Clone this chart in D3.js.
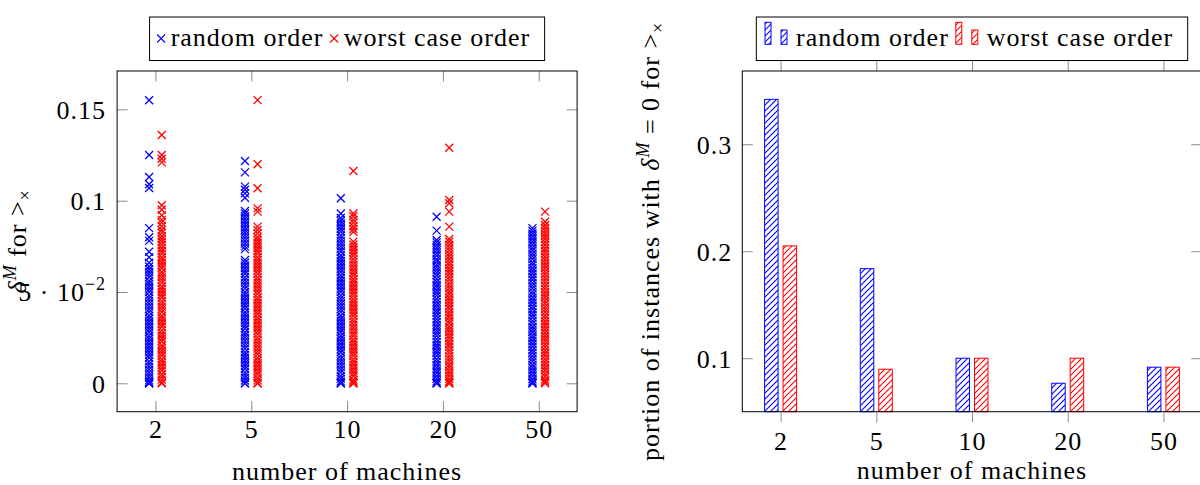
<!DOCTYPE html>
<html>
<head>
  <title>delta^M by number of machines</title>
  <script src="https://d3js.org/d3.v7.min.js"></script>
  <style>
    body { margin: 0; background: #fff; }
    text {
      font-family: "Liberation Serif", serif;
      font-size: 26px;
      fill: #000;
      letter-spacing: 1px;
    }
  </style>
</head>
<body>
  <div id="chart"></div>

  <script>
    // categories and legend entries
    const machines = ["2", "5", "10", "20", "50"];
    const seriesNames = ["random order", "worst case order"];
    const colors = ["#0000ff", "#ff0000"];

    // left plot: delta^M of every instance, random order
    const random2 = [0.155, 0.125, 0.113, 0.109, 0.107, 0.085, 0.080, 0.078, 0.072, 0.069, 0.066,
      0.064, 0.0625, 0.061, 0.0595, 0.058, 0.056, 0.0545, 0.053, 0.0515, 0.050, 0.048, 0.0465, 0.045,
      0.0435, 0.042, 0.0405, 0.039, 0.037, 0.0355, 0.034, 0.0325, 0.031, 0.0295, 0.028, 0.026, 0.0245,
      0.023, 0.0215, 0.020, 0.0185, 0.017, 0.0155, 0.014, 0.012, 0.0105, 0.009, 0.0075, 0.006, 0.0045,
      0.003, 0.0015, 0.0005, 0, 0];
    const random5 = [0.1217, 0.1155, 0.1077, 0.106, 0.104, 0.1016, 0.0944, 0.093, 0.0915, 0.090, 0.0885,
      0.087, 0.0855, 0.084, 0.0825, 0.081, 0.0795, 0.078, 0.0765, 0.075, 0.0735,
      0.0675, 0.066, 0.0645, 0.063, 0.0615, 0.060, 0.058, 0.0565, 0.055, 0.0535, 0.052, 0.050, 0.0485,
      0.047, 0.0455, 0.044, 0.0425, 0.041, 0.039, 0.0375, 0.036, 0.0345, 0.033, 0.0315, 0.030, 0.028,
      0.0265, 0.025, 0.0235, 0.022, 0.0205, 0.019, 0.017, 0.0155, 0.014, 0.0125, 0.011, 0.0095, 0.008,
      0.006, 0.0045, 0.003, 0.0015, 0, 0];
    const random10 = [0.1013, 0.093, 0.0905, 0.089, 0.0875, 0.086, 0.0845, 0.083, 0.081, 0.0795, 0.078,
      0.0765, 0.075, 0.0735, 0.072, 0.070, 0.0685, 0.067, 0.0655, 0.064, 0.0625, 0.061, 0.059, 0.0575,
      0.056, 0.0545, 0.053, 0.0515, 0.050, 0.048, 0.0465, 0.045, 0.0435, 0.042, 0.0405, 0.039, 0.037,
      0.0355, 0.034, 0.0325, 0.031, 0.0295, 0.028, 0.026, 0.0245, 0.023, 0.0215, 0.020, 0.0185, 0.017,
      0.015, 0.0135, 0.012, 0.0105, 0.009, 0.0075, 0.006, 0.004, 0.0025, 0.001, 0, 0];
    const random20 = [0.0912, 0.0836, 0.0785, 0.0772, 0.0758, 0.0742, 0.0728, 0.0712, 0.0698, 0.068,
      0.0667, 0.065, 0.0636, 0.062, 0.0606, 0.059, 0.0572, 0.0556, 0.054, 0.0526, 0.051, 0.0496, 0.048,
      0.0462, 0.0446, 0.043, 0.0416, 0.040, 0.0386, 0.037, 0.0352, 0.0336, 0.032, 0.0306, 0.029, 0.0276,
      0.026, 0.0242, 0.0226, 0.021, 0.0196, 0.018, 0.0166, 0.015, 0.0132, 0.0116, 0.010, 0.0086, 0.007,
      0.0056, 0.004, 0.0025, 0.001, 0, 0];
    const random50 = [0.085, 0.0835, 0.082, 0.0805, 0.079, 0.0775, 0.076, 0.0742, 0.0727, 0.071, 0.0695,
      0.068, 0.0662, 0.0647, 0.063, 0.0615, 0.060, 0.0582, 0.0567, 0.055, 0.0535, 0.052, 0.0502, 0.0487,
      0.047, 0.0455, 0.044, 0.0422, 0.0407, 0.039, 0.0375, 0.036, 0.0342, 0.0327, 0.031, 0.0295, 0.028,
      0.0262, 0.0247, 0.023, 0.0215, 0.020, 0.0182, 0.0167, 0.015, 0.0135, 0.012, 0.0102, 0.0087, 0.007,
      0.0055, 0.004, 0.0022, 0.001, 0, 0];

    // left plot: delta^M of every instance, worst case order
    const worst2 = [0.136, 0.125, 0.123, 0.121, 0.0975, 0.095, 0.092, 0.0895, 0.088, 0.086, 0.084, 0.0825,
      0.0805, 0.079, 0.0775, 0.0757, 0.074, 0.0725, 0.071, 0.069, 0.0675, 0.066, 0.0645, 0.063, 0.061,
      0.0595, 0.058, 0.0565, 0.055, 0.053, 0.0515, 0.050, 0.0485, 0.047, 0.045, 0.0435, 0.042, 0.0405,
      0.039, 0.037, 0.0355, 0.034, 0.0325, 0.031, 0.029, 0.0275, 0.026, 0.0245, 0.023, 0.021, 0.0195,
      0.018, 0.0165, 0.015, 0.013, 0.0115, 0.010, 0.0085, 0.007, 0.005, 0.0035, 0.002, 0.0005, 0];
    const worst5 = [0.1551, 0.120, 0.1068, 0.0958, 0.094, 0.0858, 0.084, 0.0821, 0.080, 0.0785, 0.077,
      0.0755, 0.074, 0.0725, 0.071, 0.069, 0.0675, 0.066, 0.0645, 0.063, 0.0615, 0.060, 0.058, 0.0565,
      0.055, 0.0535, 0.052, 0.0505, 0.049, 0.047, 0.0455, 0.044, 0.0425, 0.041, 0.0395, 0.038, 0.036,
      0.0345, 0.033, 0.0315, 0.030, 0.0285, 0.027, 0.025, 0.0235, 0.022, 0.0205, 0.019, 0.0175, 0.016,
      0.014, 0.0125, 0.011, 0.0095, 0.008, 0.0065, 0.005, 0.003, 0.0015, 0, 0];
    const worst10 = [0.1163, 0.093, 0.0915, 0.0895, 0.088, 0.086, 0.0845, 0.083, 0.0776, 0.076, 0.0745,
      0.073, 0.0715, 0.070, 0.068, 0.0665, 0.065, 0.0635, 0.062, 0.0605, 0.059, 0.057, 0.0555, 0.054,
      0.0525, 0.051, 0.0495, 0.048, 0.046, 0.0445, 0.043, 0.0415, 0.040, 0.0385, 0.037, 0.035, 0.0335,
      0.032, 0.0305, 0.029, 0.0275, 0.026, 0.024, 0.0225, 0.021, 0.0195, 0.018, 0.0165, 0.015, 0.013,
      0.0115, 0.010, 0.0085, 0.007, 0.0055, 0.004, 0.002, 0.001, 0, 0];
    const worst20 = [0.129, 0.1004, 0.0986, 0.094, 0.0858, 0.079, 0.0775, 0.0758, 0.0743, 0.0728, 0.071,
      0.0695, 0.068, 0.0663, 0.0648, 0.063, 0.0615, 0.060, 0.0583, 0.0568, 0.055, 0.0535, 0.052, 0.0503,
      0.0488, 0.047, 0.0455, 0.044, 0.0423, 0.0408, 0.039, 0.0375, 0.036, 0.0343, 0.0328, 0.031, 0.0295,
      0.028, 0.0263, 0.0248, 0.023, 0.0215, 0.020, 0.0183, 0.0168, 0.015, 0.0135, 0.012, 0.0103, 0.0088,
      0.007, 0.0055, 0.004, 0.0023, 0.001, 0, 0];
    const worst50 = [0.094, 0.0885, 0.0867, 0.0852, 0.0836, 0.082, 0.0805, 0.079, 0.0773, 0.0757, 0.074,
      0.0725, 0.071, 0.0693, 0.0677, 0.066, 0.0645, 0.063, 0.0613, 0.0597, 0.058, 0.0565, 0.055, 0.0533,
      0.0517, 0.050, 0.0485, 0.047, 0.0453, 0.0437, 0.042, 0.0405, 0.039, 0.0373, 0.0357, 0.034, 0.0325,
      0.031, 0.0293, 0.0277, 0.026, 0.0245, 0.023, 0.0213, 0.0197, 0.018, 0.0165, 0.015, 0.0133, 0.0117,
      0.010, 0.0085, 0.007, 0.0053, 0.0037, 0.002, 0.001, 0];

    const randomDelta = [random2, random5, random10, random20, random50];
    const worstDelta = [worst2, worst5, worst10, worst20, worst50];

    // right plot: portion of instances with delta^M = 0
    const randomZero = [0.342, 0.1837, 0.1, 0.0766, 0.0916];
    const worstZero = [0.205, 0.0897, 0.1, 0.1, 0.0916];

    // y ticks
    const leftTicks = [0, 0.05, 0.1, 0.15];
    const rightTicks = [0.1, 0.2, 0.3];

    // ---------- layout ----------
    const W = 1200, H = 485;
    const plotTop = 71, plotBottom = 411.7;
    const left = { x0: 117.1, x1: 577.1 };
    const right = { x0: 742.3, x1: 1201.7 };
    const tickLen = 10.5;
    const tickColor = "#8c8c8c";

    const svg = d3.select("#chart")
      .append("svg")
      .attr("width", W)
      .attr("height", H);

    // hatch patterns (north east lines)
    const defs = svg.append("defs");
    colors.forEach((c, i) => {
      defs.append("pattern")
        .attr("id", "hatch" + i)
        .attr("patternUnits", "userSpaceOnUse")
        .attr("width", 6)
        .attr("height", 6)
        .append("path")
        .attr("d", "M0,6L6,0M-1,1L1,-1M5,7L7,5")
        .style("stroke", c)
        .style("fill", "none")
        .style("stroke-width", "1.1px");
    });

    function styleAxis(g, hideLabels) {
      g.select(".domain").remove();
      g.selectAll(".tick line").attr("stroke", tickColor).attr("stroke-width", 1);
      if (hideLabels) g.selectAll(".tick text").remove();
      g.attr("font-family", null).attr("font-size", null);
    }

    // ================= LEFT: scatter =================
    const xL = d3.scaleLinear().domain([-0.4, 4.4]).range([left.x0, left.x1]);
    const yL = d3.scaleLinear().domain([-0.01555, 0.17103]).range([plotBottom, plotTop]);
    const idx = machines.map((m, i) => i);

    const gxb = svg.append("g")
      .attr("transform", "translate(0," + plotBottom + ")")
      .call(d3.axisBottom(xL).tickValues(idx).tickFormat(i => machines[i]).tickSize(-tickLen));
    styleAxis(gxb, false);
    gxb.selectAll(".tick text").attr("y", 26.5).attr("dy", null);

    const gxt = svg.append("g")
      .attr("transform", "translate(0," + plotTop + ")")
      .call(d3.axisTop(xL).tickValues(idx).tickSize(-tickLen));
    styleAxis(gxt, true);

    const gyl = svg.append("g")
      .attr("transform", "translate(" + left.x0 + ",0)")
      .call(d3.axisLeft(yL).tickValues(leftTicks).tickSize(-tickLen).tickPadding(11)
        .tickFormat(d => d === 0.05 ? "" : String(d)));
    styleAxis(gyl, false);
    gyl.selectAll(".tick text").attr("dy", "0.34em");
    // scaled tick label 5·10^-2
    const t5 = gyl.selectAll(".tick").filter(d => d === 0.05).select("text");
    t5.append("tspan").text("5 · 10");
    t5.append("tspan").attr("dy", -11).style("font-size", "18px").text("−2");

    const gyr = svg.append("g")
      .attr("transform", "translate(" + left.x1 + ",0)")
      .call(d3.axisRight(yL).tickValues(leftTicks).tickSize(-tickLen));
    styleAxis(gyr, true);

    // markers
    const cross = "M-4,-4L4,4M-4,4L4,-4";
    [randomDelta, worstDelta].forEach((series, s) => {
      const off = s === 0 ? -6.3 : 6.3;
      const pts = [];
      series.forEach((vals, i) => vals.forEach(v => pts.push({ i: i, v: v })));
      svg.append("g").selectAll("path")
        .data(pts)
        .enter().append("path")
        .attr("d", cross)
        .attr("transform", d => "translate(" + (xL(d.i) + off) + "," + yL(d.v) + ")")
        .attr("fill", "none")
        .attr("stroke", colors[s])
        .attr("stroke-width", 1.3);
    });

    svg.append("rect")
      .attr("x", left.x0).attr("y", plotTop)
      .attr("width", left.x1 - left.x0).attr("height", plotBottom - plotTop)
      .attr("fill", "none").attr("stroke", "#000").attr("stroke-width", 1);

    // axis labels
    svg.append("text")
      .attr("x", (left.x0 + left.x1) / 2).attr("y", 479.5)
      .attr("text-anchor", "middle")
      .text("number of machines");

    function deltaLabel(t, prefix) {
      if (prefix) t.append("tspan").text(prefix);
      t.append("tspan").style("font-style", "italic").text("δ");
      t.append("tspan").attr("dy", -10).style("font-size", "18px").style("font-style", "italic").text("M");
    }

    const ylL = svg.append("text")
      .attr("transform", "translate(26," + (plotTop + plotBottom) / 2 + ") rotate(-90)")
      .attr("text-anchor", "middle");
    deltaLabel(ylL, null);
    ylL.append("tspan").attr("dy", 10).text(" for >");
    ylL.append("tspan").attr("dy", 5).style("font-size", "18px").text("×");

    // legend with markers
    const legL = svg.append("g");
    let cx = 0;
    seriesNames.forEach((name, s) => {
      legL.append("path")
        .attr("d", cross)
        .attr("transform", "translate(" + (cx + 4) + ",38.5)")
        .attr("fill", "none").attr("stroke", colors[s]).attr("stroke-width", 1.1);
      const t = legL.append("text").attr("x", cx + 13.6).attr("y", 46).text(name);
      cx += 13.6 + t.node().getComputedTextLength() + 6.7;
    });
    const legLw = cx - 6.7 + 14.5 + 7.5;
    legL.insert("rect", ":first-child")
      .attr("x", -7.5).attr("y", 17)
      .attr("width", legLw).attr("height", 43.5)
      .attr("fill", "#fff").attr("stroke", "#000").attr("stroke-width", 1);
    legL.attr("transform", "translate(" + ((left.x0 + left.x1) / 2 - legLw / 2 + 7.5) + ",0)");

    // ================= RIGHT: bars =================
    const xR = d3.scaleLinear().domain([-0.4, 4.4]).range([right.x0, right.x1]);
    const yR = d3.scaleLinear().domain([0.05, 0.3685]).range([plotBottom, plotTop]);

    const rxb = svg.append("g")
      .attr("transform", "translate(0," + plotBottom + ")")
      .call(d3.axisBottom(xR).tickValues(idx).tickFormat(i => machines[i]).tickSize(tickLen));
    styleAxis(rxb, false);
    rxb.selectAll(".tick text").attr("y", 38.3).attr("dy", null);

    const rxt = svg.append("g")
      .attr("transform", "translate(0," + plotTop + ")")
      .call(d3.axisTop(xR).tickValues(idx).tickSize(tickLen));
    styleAxis(rxt, true);

    const ryl = svg.append("g")
      .attr("transform", "translate(" + right.x0 + ",0)")
      .call(d3.axisLeft(yR).tickValues(rightTicks).tickSize(-tickLen).tickPadding(10)
        .tickFormat(d3.format(".1f")));
    styleAxis(ryl, false);
    ryl.selectAll(".tick text").attr("dy", "0.34em");

    const ryr = svg.append("g")
      .attr("transform", "translate(" + right.x1 + ",0)")
      .call(d3.axisRight(yR).tickValues(rightTicks).tickSize(-tickLen));
    styleAxis(ryr, true);

    const barW = 13.5;
    [randomZero, worstZero].forEach((vals, s) => {
      const off = s === 0 ? -9.25 : 9.25;
      svg.append("g").selectAll("rect")
        .data(vals)
        .enter().append("rect")
        .attr("x", (d, i) => xR(i) + off - barW / 2)
        .attr("y", d => yR(d))
        .attr("width", barW)
        .attr("height", d => yR(0.05) - yR(d))
        .attr("fill", "url(#hatch" + s + ")")
        .attr("stroke", colors[s])
        .attr("stroke-width", 1);
    });

    svg.append("rect")
      .attr("x", right.x0).attr("y", plotTop)
      .attr("width", right.x1 - right.x0).attr("height", plotBottom - plotTop)
      .attr("fill", "none").attr("stroke", "#000").attr("stroke-width", 1);

    svg.append("text")
      .attr("x", (right.x0 + right.x1) / 2).attr("y", 479)
      .attr("text-anchor", "middle")
      .text("number of machines");

    const ylR = svg.append("text")
      .attr("transform", "translate(659," + (plotTop + plotBottom) / 2 + ") rotate(-90)")
      .attr("text-anchor", "middle");
    deltaLabel(ylR, "portion of instances with ");
    ylR.append("tspan").attr("dy", 10).text(" = 0 for >");
    ylR.append("tspan").attr("dy", 5).style("font-size", "18px").text("×");

    // legend with small hatched bars
    const legR = svg.append("g");
    cx = 0;
    seriesNames.forEach((name, s) => {
      [[0, 22.3, 22], [16, 30, 14.3]].forEach(b => {
        legR.append("rect")
          .attr("x", cx + b[0]).attr("y", b[1])
          .attr("width", 6).attr("height", b[2])
          .attr("fill", "url(#hatch" + s + ")")
          .attr("stroke", colors[s]).attr("stroke-width", 1);
      });
      const t = legR.append("text").attr("x", cx + 31).attr("y", 46).text(name);
      cx += 31 + t.node().getComputedTextLength() + 7;
    });
    const legRw = cx - 7 + 14.5 + 8.7;
    legR.insert("rect", ":first-child")
      .attr("x", -8.7).attr("y", 17)
      .attr("width", legRw).attr("height", 43.5)
      .attr("fill", "#fff").attr("stroke", "#000").attr("stroke-width", 1);
    legR.attr("transform", "translate(" + ((right.x0 + right.x1) / 2 - legRw / 2 + 8.7) + ",0)");
  </script>
</body>
</html>
